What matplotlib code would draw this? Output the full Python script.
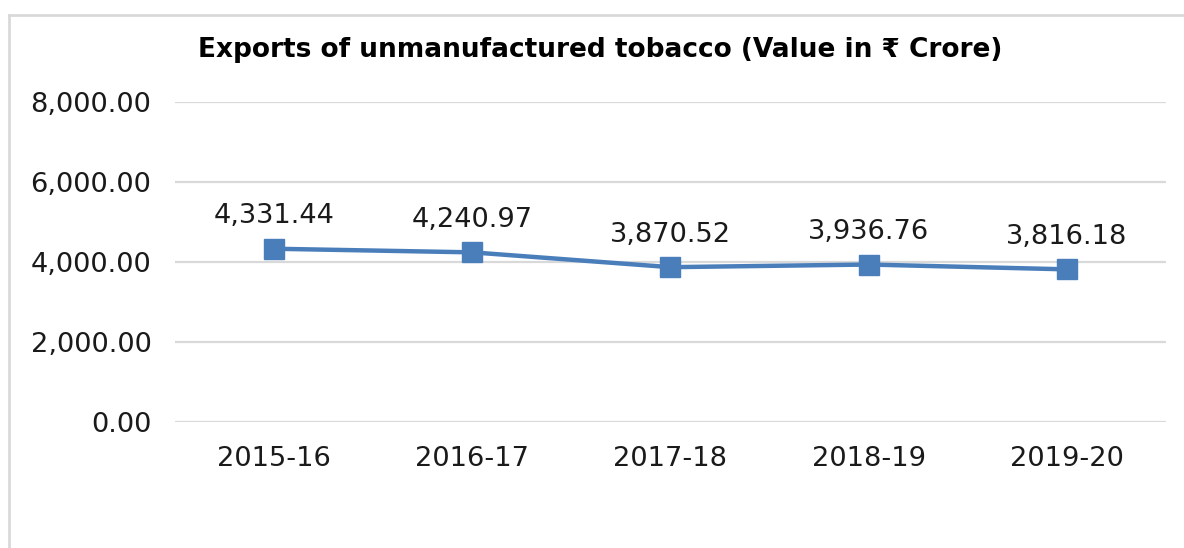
import matplotlib.pyplot as plt
from matplotlib.lines import Line2D
from matplotlib.ticker import FuncFormatter

plt.rcParams['font.family'] = ['DejaVu Sans']

years = ['2015-16', '2016-17', '2017-18', '2018-19', '2019-20']
export_values = [4331.44, 4240.97, 3870.52, 3936.76, 3816.18]
y_ticks = [0, 2000, 4000, 6000, 8000]

line_color = '#4a7ebb'
grid_color = '#d9d9d9'

fig = plt.figure(figsize=(11.84, 5.48), dpi=100)
ax = fig.add_axes([0.1478, 0.2299, 0.837, 0.584])

# outer chart border: only left and top edges are visible in the source
bx, by = 9 / 1184, 1 - 15 / 548
fig.lines.append(Line2D([bx, bx], [0, by], transform=fig.transFigure,
                        color=grid_color, linewidth=2))
fig.lines.append(Line2D([bx, 1], [by, by], transform=fig.transFigure,
                        color=grid_color, linewidth=2))

x = range(len(years))
ax.plot(x, export_values, color=line_color, linewidth=3.2,
        marker='s', markersize=14, zorder=3)

for xi, v in zip(x, export_values):
    ax.annotate(f'{v:,.2f}', (xi, v), xytext=(0, 14), textcoords='offset points',
                ha='center', va='bottom', fontsize=19.6, color='#1a1a1a')

ax.set_xlim(-0.5, len(years) - 0.5)
ax.set_ylim(0, 8000)
ax.set_yticks(y_ticks)
ax.yaxis.set_major_formatter(FuncFormatter(lambda v, _: f'{v:,.2f}'))
ax.set_xticks(list(x))
ax.set_xticklabels(years)
ax.tick_params(axis='both', length=0, labelsize=19.6, labelcolor='#1a1a1a')
ax.tick_params(axis='y', pad=17)
ax.tick_params(axis='x', pad=17)
ax.grid(axis='y', color=grid_color, linewidth=1.6)
ax.set_axisbelow(True)
for s in ax.spines.values():
    s.set_visible(False)

fig.text(0.507, 0.908, 'Exports of unmanufactured tobacco (Value in \u20b9 Crore)',
         ha='center', va='center', fontsize=19, fontweight='bold', color='#000000')

fig.savefig('out.png', dpi=100)
